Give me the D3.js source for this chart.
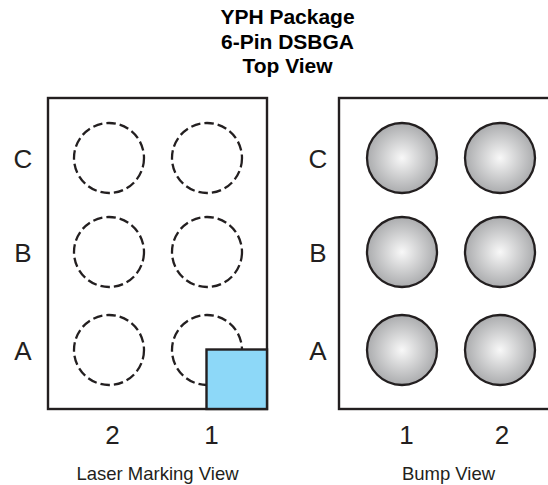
<!DOCTYPE html>
<html>
<head>
<meta charset="utf-8">
<script src="https://cdn.jsdelivr.net/npm/d3@7"></script>
<style>
  html, body { margin: 0; padding: 0; background: #fff; overflow: hidden; }
  text { font-family: "Liberation Sans", Arial, sans-serif; fill: #231f20; }
</style>
</head>
<body>
<div id="chart"></div>
<script>
var titleLines = ["YPH Package", "6-Pin DSBGA", "Top View"];
var rows = ["C", "B", "A"];
var laserCols = ["2", "1"];
var bumpCols = ["1", "2"];
var laserCaption = "Laser Marking View";
var bumpCaption = "Bump View";

var width = 548, height = 485, ink = "#231f20";

var svg = d3.select("#chart").append("svg")
    .attr("width", width)
    .attr("height", height)
    .style("display", "block");

// gradient for the solder bumps
var grad = svg.append("defs").append("radialGradient").attr("id", "bump");
grad.append("stop").attr("offset", "0%").attr("stop-color", "#f8f8f8");
grad.append("stop").attr("offset", "100%").attr("stop-color", "#abacae");

// title
svg.append("g").selectAll("text")
    .data(titleLines)
    .enter().append("text")
    .attr("x", 287.5)
    .attr("y", function(d, i) { return 24 + i * 24.5; })
    .attr("text-anchor", "middle")
    .style("font-size", "21px")
    .style("font-weight", "bold")
    .style("fill", "#000")
    .text(function(d) { return d; });

// pin rows are not quite evenly spaced in the drawing
var y = d3.scaleOrdinal().domain(rows).range([158, 252, 350]);
var xLaser = d3.scalePoint().domain(laserCols).range([109, 207]);
var xBump = d3.scalePoint().domain(bumpCols).range([402, 500]);
// the tick labels sit slightly off the pin centres
var xLaserLabel = d3.scalePoint().domain(laserCols).range([112, 211]);
var xBumpLabel = d3.scalePoint().domain(bumpCols).range([406, 501.5]);

var boxTop = 98, boxBottom = 409;

function axes(x, labelX) {
    var left = svg.append("g")
        .attr("transform", "translate(" + labelX + ",0)")
        .call(d3.axisLeft(y).tickSize(0).tickPadding(0));
    var bottom = svg.append("g")
        .attr("transform", "translate(0,435)")
        .call(d3.axisBottom(x).tickSize(0).tickPadding(0));
    left.select(".domain").remove();
    bottom.select(".domain").remove();
    left.selectAll("text").attr("text-anchor", "middle").attr("x", 0).attr("dy", "0.36em").style("font-size", "26px");
    bottom.selectAll("text").attr("y", 0).attr("dy", "0.36em").style("font-size", "26px");
}

// left view
svg.append("rect")
    .attr("x", 48).attr("y", boxTop)
    .attr("width", 219).attr("height", boxBottom - boxTop)
    .attr("fill", "none").attr("stroke", ink).attr("stroke-width", 2.4);

rows.forEach(function(r) {
    svg.append("g").selectAll("circle")
        .data(laserCols)
        .enter().append("circle")
        .attr("cx", function(d) { return xLaser(d); })
        .attr("cy", y(r))
        .attr("r", 35)
        .attr("fill", "none")
        .attr("stroke", ink)
        .attr("stroke-width", 2.3)
        .attr("stroke-dasharray", "9.5 4");
});

// pin 1 marker
svg.append("rect")
    .attr("x", 206.5).attr("y", 349.5)
    .attr("width", 60.5).attr("height", 59.5)
    .attr("fill", "#8dd8f8").attr("stroke", ink).attr("stroke-width", 2.4);

axes(xLaserLabel, 23);

// right view, runs off the page edge
svg.append("rect")
    .attr("x", 339).attr("y", boxTop)
    .attr("width", 219).attr("height", boxBottom - boxTop)
    .attr("fill", "none").attr("stroke", ink).attr("stroke-width", 2.4);

rows.forEach(function(r) {
    svg.append("g").selectAll("circle")
        .data(bumpCols)
        .enter().append("circle")
        .attr("cx", function(d) { return xBump(d); })
        .attr("cy", y(r))
        .attr("r", 35)
        .attr("fill", "url(#bump)")
        .attr("stroke", ink)
        .attr("stroke-width", 2.3);
});

axes(xBumpLabel, 318);

svg.append("text").attr("x", 157.5).attr("y", 480)
    .attr("text-anchor", "middle").style("font-size", "18.5px").text(laserCaption);
svg.append("text").attr("x", 448.5).attr("y", 480)
    .attr("text-anchor", "middle").style("font-size", "18.5px").text(bumpCaption);
</script>
</body>
</html>
